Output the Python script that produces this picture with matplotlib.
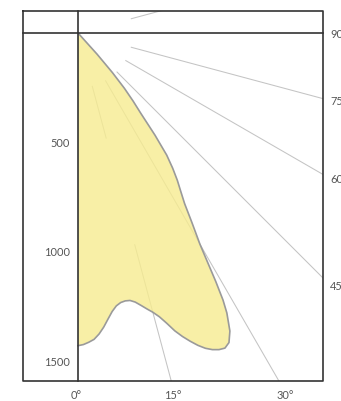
import numpy as np
import matplotlib
matplotlib.use("Agg")
import matplotlib.pyplot as plt

# Photometric data (C-plane, candela)
angles_deg = [0, 1, 2, 3, 4, 5, 6, 7, 8, 9, 10, 11, 12, 13, 14, 15, 16, 17, 18,
              19, 20, 21, 22, 23, 24, 25, 26, 27, 28, 28.5, 29, 29.5, 30, 31, 32,
              33, 34, 35, 36, 37, 38, 39, 40, 41, 42, 43]
intensity_cd = [1430, 1425, 1415, 1403, 1380, 1350, 1315, 1283, 1260, 1248, 1244,
                1246, 1258, 1278, 1300, 1322, 1350, 1388, 1432, 1468, 1500, 1530,
                1555, 1573, 1585, 1590, 1575, 1530, 1450, 1390, 1300, 1200, 1115,
                1012, 920, 862, 812, 755, 690, 585, 468, 400, 330, 240, 130, 0]

ring_values = [500, 1000, 1500]
ring_labels = ["500", "1000", "1500"]
bottom_angles = [0, 15, 30]
bottom_labels = ["0°", "15°", "30°"]
right_angles = [45, 60, 75, 90]
right_labels = ["45", "60", "75", "90"]
ray_angles = [15, 30, 45, 60, 75, 105]

px = 0.21867  # px per cd
fig = plt.figure(figsize=(3.41, 4.02), dpi=100)
W, H = 341, 402
ax = fig.add_axes([23 / W, (402 - 382) / H, 300 / W, 370 / H])
xmin, xmax = (23 - 78) / px, (323 - 78) / px
ytop, ybot = -(34 - 12) / px, (382 - 34) / px
ax.set_xlim(xmin, xmax)
ax.set_ylim(ybot, ytop)
ax.set_aspect("equal")
ax.axis("off")

grid_c = "#c4c4c4"
r0 = 250
for a in ray_angles:
    t = np.radians(a)
    if a == 15:
        segs = [(r0, 500), (1000, 4000)]
    else:
        segs = [(r0, 4000)]
    for ra, rb in segs:
        ax.plot([ra * np.sin(t), rb * np.sin(t)], [ra * np.cos(t), rb * np.cos(t)],
                color=grid_c, lw=0.75, zorder=1, solid_capstyle="butt")

th = np.radians(angles_deg)
r = np.array(intensity_cd, dtype=float)
xs = r * np.sin(th)
ys = r * np.cos(th)
ax.fill(np.r_[0, xs, 0], np.r_[0, ys, 0], color=(247/255, 236/255, 144/255),
        alpha=0.8, lw=0, zorder=2)
ax.plot(xs, ys, color="#9a9a9a", lw=1.2, zorder=3, solid_joinstyle="round")

dark = "#333333"
lw = 1.2
ax.plot([xmin, xmax, xmax, xmin, xmin], [ytop, ytop, ybot, ybot, ytop],
        color=dark, lw=lw, zorder=5, clip_on=False)
ax.plot([xmin, xmax], [0, 0], color=dark, lw=lw, zorder=5, clip_on=False)
ax.plot([0, 0], [ytop, ybot], color=dark, lw=lw, zorder=5, clip_on=False)

tc = "#555555"
fs = 7.9
fam = ["Lato", "DejaVu Sans"]
for v, lab in zip(ring_values, ring_labels):
    ax.text((70 - 78) / px, v, lab, ha="right", va="center", fontsize=fs,
            color=tc, family=fam)

ylab = (396 - 34) / px
for a, lab in zip(bottom_angles, bottom_labels):
    ax.text(ylab * np.tan(np.radians(a)) - 2 / px, ylab, lab, ha="center", va="center",
            fontsize=fs, color=tc, family=fam, clip_on=False)

xlab = (330 - 78) / px
for a, lab in zip(right_angles, right_labels):
    yy = 0 if a == 90 else xlab / np.tan(np.radians(a))
    ax.text(xlab, yy, lab, ha="left", va="center", fontsize=fs, color=tc,
            family=fam, clip_on=False)

fig.savefig("out.png", dpi=100)
